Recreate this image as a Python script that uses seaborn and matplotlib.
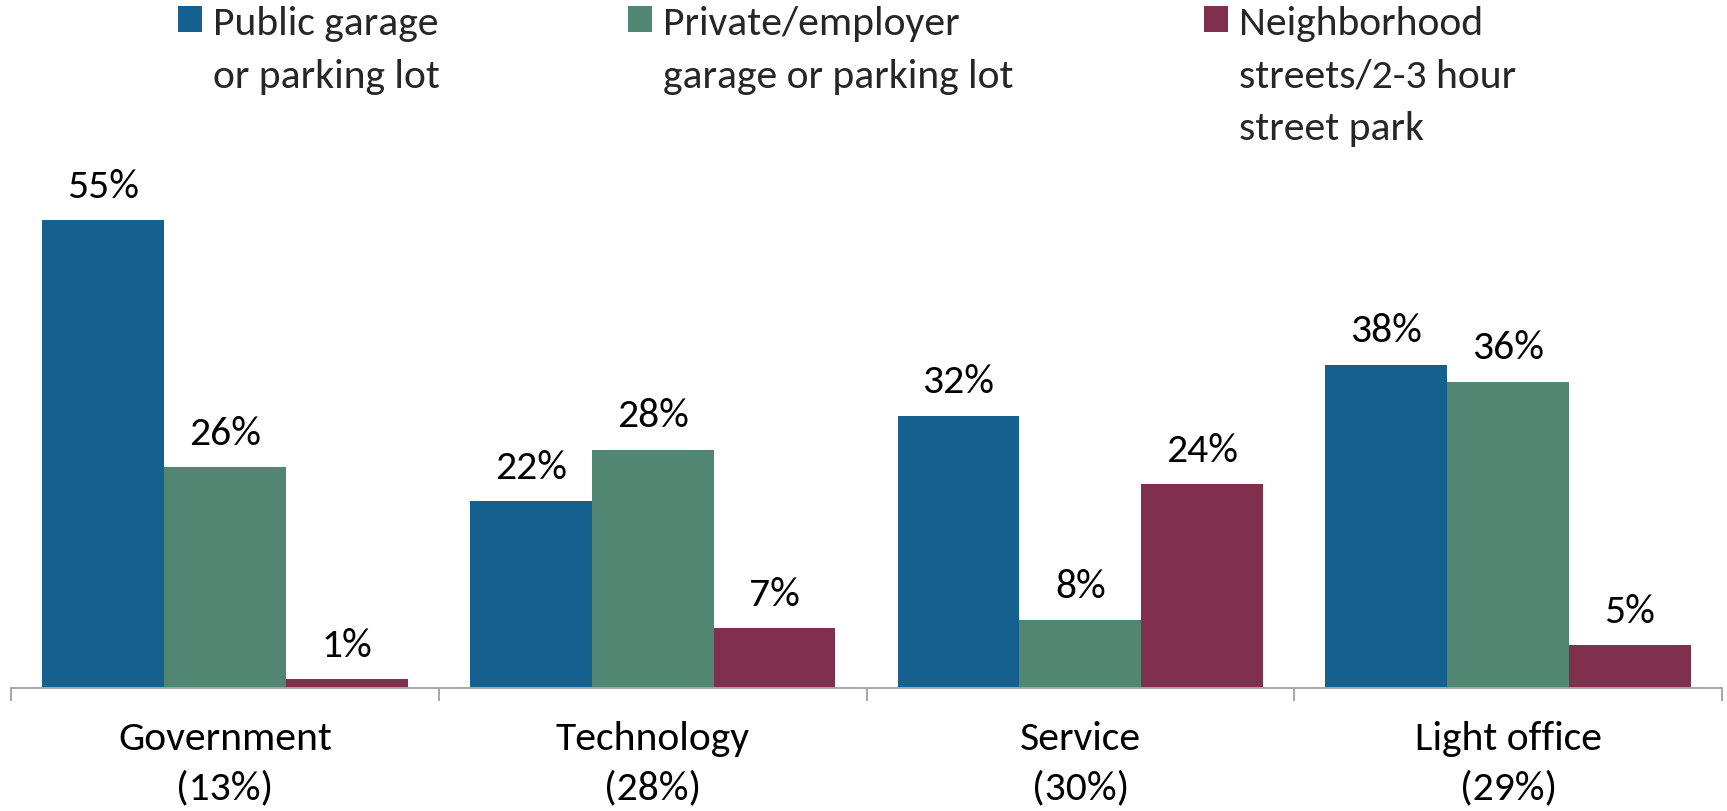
import matplotlib
matplotlib.use("Agg")
import matplotlib.pyplot as plt
from matplotlib import font_manager
from matplotlib.ticker import FixedLocator
import seaborn as sns
import pandas as pd

# --- data -------------------------------------------------------------
categories = ["Government\n(13%)", "Technology\n(28%)", "Service\n(30%)", "Light office\n(29%)"]
series = [
    "Public garage\nor parking lot",
    "Private/employer\ngarage or parking lot",
    "Neighborhood\nstreets/2-3 hour\nstreet park",
]
public_garage = [55, 22, 32, 38]
private_garage = [26, 28, 8, 36]
neighborhood_streets = [1, 7, 24, 5]
colors = ["#14608E", "#508672", "#80304C"]

# --- font -------------------------------------------------------------
available = {f.name for f in font_manager.fontManager.ttflist}
font = next(f for f in ["Carlito", "Calibri", "Lato", "Open Sans", "DejaVu Sans"] if f in available)
scale = 1.0 if font in ("Carlito", "Calibri") else 0.93

sns.set_theme(style="white")
plt.rcParams["font.family"] = [font, "DejaVu Sans"]
fs = 30 * scale

rows = []
for s, vals in zip(series, [public_garage, private_garage, neighborhood_streets]):
    for c, v in zip(categories, vals):
        rows.append({"category": c, "series": s, "value": v})
df = pd.DataFrame(rows)

W, H = 1727, 811
fig = plt.figure(figsize=(W / 100, H / 100), dpi=100)
ax = fig.add_axes([11 / W, 123 / H, (1722 - 11) / W, 510.5 / H])

sns.barplot(data=df, x="category", y="value", hue="series", order=categories,
            hue_order=series, palette=colors, saturation=1, width=0.855,
            gap=0, ax=ax, legend=True, errorbar=None, linewidth=0)

ax.set_ylim(0, 60)
ax.set_xlim(-0.5, 3.5)
ax.set_xlabel("")
ax.set_ylabel("")
ax.set_yticks([])

for sp in ["left", "right", "top"]:
    ax.spines[sp].set_visible(False)
ax.spines["bottom"].set_color("#A6A6A6")
ax.spines["bottom"].set_linewidth(1.4)
ax.spines["bottom"].set_zorder(5)

ax.xaxis.set_minor_locator(FixedLocator([-0.5, 0.5, 1.5, 2.5, 3.5]))
ax.tick_params(axis="x", which="minor", length=9.5, width=1.4, color="#A6A6A6",
               direction="out", bottom=True)
ax.tick_params(axis="x", which="major", length=0, pad=24, labelsize=fs,
               labelcolor="black")
for lab in ax.get_xticklabels():
    lab.set_linespacing(1.45)

for cont, vals in zip(ax.containers, [public_garage, private_garage, neighborhood_streets]):
    ax.bar_label(cont, labels=[f"{v}%" for v in vals], padding=11,
                 fontsize=fs, color="black")

# --- legend: one block per series, square aligned with the first line ---
handles, labels = ax.get_legend_handles_labels()
ax.get_legend().remove()
legend_x = [178, 628, 1204]
for h, l, x in zip(handles, labels, legend_x):
    leg = fig.legend([h], [l], loc="upper left", bbox_to_anchor=(x / W, 1 - 6 / H),
                     frameon=False, fontsize=fs, handlelength=0.58,
                     handleheight=0.58, handletextpad=0.25, borderpad=0,
                     borderaxespad=0)
    for t in leg.get_texts():
        t.set_linespacing(1.57)
    for col in leg._legend_handle_box.get_children():
        for item in col.get_children():
            item.align = "top"

fig.savefig("out.png", dpi=100)
